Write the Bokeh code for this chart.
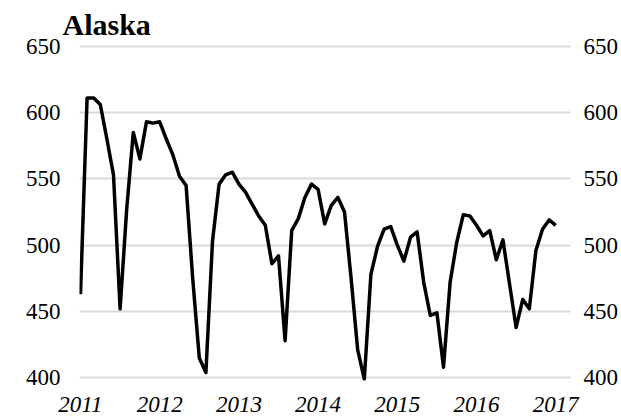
from bokeh.plotting import figure
from bokeh.models import Range1d, FixedTicker, LinearAxis
from bokeh.embed import file_html
from bokeh.resources import INLINE

title_text = "Alaska"
year_labels = ["2011", "2012", "2013", "2014", "2015", "2016", "2017"]
y_ticks = [400, 450, 500, 550, 600, 650]
values = [463, 611, 611, 606, 580, 553, 452, 527, 585, 565, 593, 592,
          593, 580, 568, 552, 545, 475, 415, 404, 503, 546, 553, 555,
          546, 540, 531, 522, 515, 486, 492, 428, 511, 520, 536, 546,
          542, 516, 530, 536, 525, 475, 421, 399, 478, 499, 512, 514,
          500, 488, 506, 510, 472, 447, 449, 408, 472, 502, 523, 522,
          515, 507, 511, 489, 504, 471, 438, 459, 452, 496, 512, 519,
          515]
months = list(range(len(values)))
year_ticks = [12 * i for i in range(len(year_labels))]

FONT = "Liberation Serif"

p = figure(width=621, height=417, output_backend="svg", toolbar_location=None,
           x_range=Range1d(-0.15, 74.24), y_range=Range1d(398, 652),
           min_border_left=79, min_border_right=51, min_border_top=43,
           min_border_bottom=37)
p.outline_line_color = None
p.background_fill_color = "white"
p.border_fill_color = "white"

p.title.text = title_text
p.title.text_font = FONT
p.title.text_font_style = "bold"
p.title.text_font_size = "30px"
p.title.text_color = "black"
p.title.align = "left"
p.title.offset = -17
p.title.standoff = 5

p.line(months, values, line_color="black", line_width=3.5, line_join="round")

# x axis
xa = p.xaxis[0]
xa.ticker = FixedTicker(ticks=year_ticks)
xa.major_label_overrides = {t: lab for t, lab in zip(year_ticks, year_labels)}
xa.axis_line_color = None
xa.major_tick_line_color = None
xa.minor_tick_line_color = None
xa.major_tick_out = 0
xa.major_label_standoff = 16
xa.major_label_text_font = FONT
xa.major_label_text_font_style = "italic"
xa.major_label_text_font_size = "23px"
xa.major_label_text_color = "black"

# left y axis
ya = p.yaxis[0]
ya.ticker = FixedTicker(ticks=y_ticks)
ya.axis_line_color = None
ya.major_tick_line_color = None
ya.minor_tick_line_color = None
ya.major_tick_out = 0
ya.major_label_standoff = 19
ya.major_label_text_font = FONT
ya.major_label_text_font_size = "23px"
ya.major_label_text_color = "black"

# right y axis
ra = LinearAxis(ticker=FixedTicker(ticks=y_ticks))
ra.axis_line_color = None
ra.major_tick_line_color = None
ra.minor_tick_line_color = None
ra.major_tick_out = 0
ra.major_label_standoff = 13
ra.major_label_text_font = FONT
ra.major_label_text_font_size = "23px"
ra.major_label_text_color = "black"
p.add_layout(ra, "right")

p.xgrid.grid_line_color = None
p.ygrid.ticker = FixedTicker(ticks=y_ticks)
p.ygrid.grid_line_color = "#d9d9d9"
p.ygrid.grid_line_width = 2

open("out.html", "w").write(file_html(p, INLINE))
